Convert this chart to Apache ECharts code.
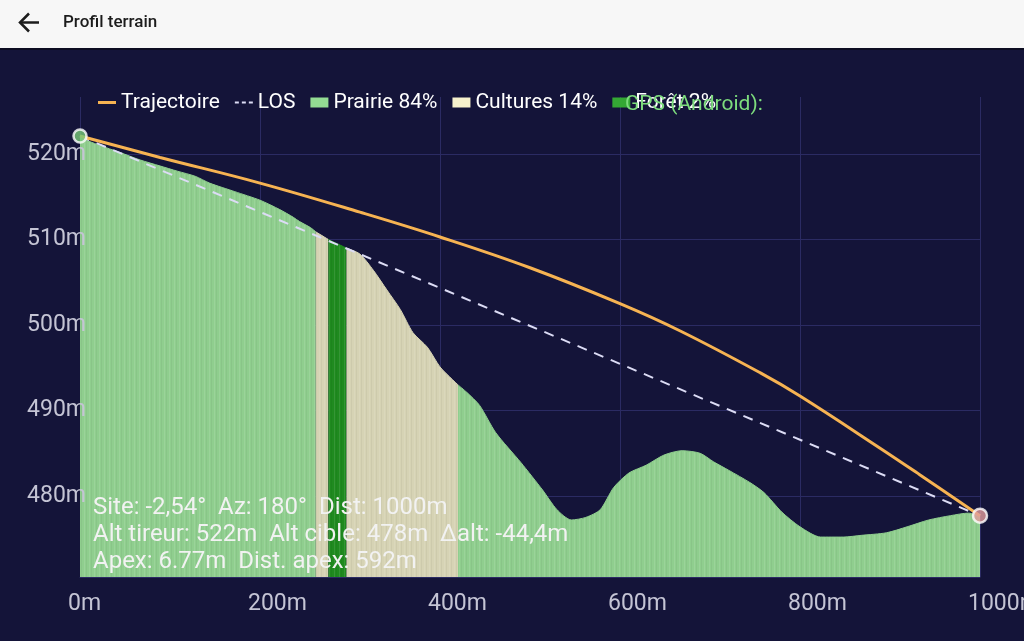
<!DOCTYPE html>
<html>
<head>
<meta charset="utf-8">
<script src="https://cdn.jsdelivr.net/npm/echarts@6/dist/echarts.min.js"></script>
<style>
html,body{margin:0;padding:0;background:#141439;}
#c{width:1024px;height:641px;}
</style>
</head>
<body>
<div id="c"></div>
<script>
// ---- Data ----
const terrainDist = [0,22,44,67,89,108,128,144,172,200,222,237,244,256,262,276,296,311,326,341,356,370,386,400,414,420,430,444,462,490,514,530,546,562,578,593,610,629,649,669,689,704,721,744,760,780,800,823,848,868,896,919,943,967,987,1000];
const terrainAlt  = [521.9,521.0,520.2,519.3,518.6,518.0,517.4,516.6,515.6,514.6,513.5,512.6,512.1,511.4,510.9,510.0,509.0,508.3,506.4,504.1,501.8,499.1,497.4,495.1,493.6,493.0,492.1,490.6,487.4,483.9,480.7,478.4,477.2,477.5,478.4,481.0,482.7,483.6,484.8,485.3,485.0,484.0,483.0,481.6,480.4,478.1,476.4,475.2,475.2,475.4,475.7,476.4,477.2,477.7,478.0,477.7];
const trajDist = [0,89,200,311,400,500,600,667,756,800,889,933,1000];
const trajAlt  = [522.1,519.6,516.6,513.2,510.3,506.7,502.5,499.3,494.4,491.7,485.6,482.5,477.7];
const losDist = [0,1000];
const losAlt  = [522.1,477.7];
const shooterPoint = [0,522.1];
const targetPoint  = [1000,477.7];
const landNames = ['Prairie 84%','Cultures 14%','Forêt 2%'];
// [start distance, end distance, land type index]
const landSegments = [[0,262,0],[262,276,1],[276,296,2],[296,420,1],[420,1000,0]];
const xTicks = [0,200,400,600,800,1000];
const yTicks = [480,490,500,510,520];
const seriesNames = ['Trajectoire','LOS'];
const infoLines = [
  'Site: -2,54°  Az: 180°  Dist: 1000m',
  'Alt tireur: 522m  Alt cible: 478m  Δalt: -44,4m',
  'Apex: 6.77m  Dist. apex: 592m'
];

// ---- Styles ----
const landLegendColors = ['#93dc93','#f6f1cc','#34a834'];
const landAreaColors   = ['#8fce8e','#d6d3b4','#1f8a1f'];
const gridColor = '#2b2b63';
const labelColor = '#c4c4d4';
const FONT = 'Roboto';
const Y_MIN = 470.53, Y_MAX = 526.67;

function stripes(base) {
  const c = document.createElement('canvas');
  c.width = 5; c.height = 4;
  const g = c.getContext('2d');
  g.fillStyle = base; g.fillRect(0, 0, 5, 4);
  g.fillStyle = 'rgba(255,255,255,0.10)'; g.fillRect(4, 0, 1, 4);
  g.fillStyle = 'rgba(0,0,0,0.04)'; g.fillRect(1, 0, 1, 4);
  return {image: c, repeat: 'repeat'};
}

const pairs = (xs, ys) => xs.map((x, i) => [x, ys[i]]);
const terrain = pairs(terrainDist, terrainAlt);

const landSeries = landSegments.map(([s, e, k]) => ({
  name: landNames[k],
  type: 'line',
  data: terrain.filter(p => p[0] >= s && p[0] <= e),
  symbol: 'none',
  smooth: 0.25,
  lineStyle: {width: 1, color: landAreaColors[k]},
  itemStyle: {color: landLegendColors[k]},
  areaStyle: {color: stripes(landAreaColors[k]), opacity: 1, origin: 'start'},
  z: 1,
  silent: true
}));

const chart = echarts.init(document.getElementById('c'), null, {renderer: 'canvas'});
chart.setOption({
  backgroundColor: '#141439',
  animation: false,
  grid: {left: 80, right: 44, top: 97, bottom: 64, containLabel: false, outerBoundsMode: 'none'},
  legend: {
    left: 93, top: 87, itemWidth: 18, itemHeight: 10, itemGap: 15,
    textStyle: {color: '#ffffff', fontSize: 21, fontFamily: FONT},
    data: [
      {name: seriesNames[0], icon: 'path://M0,0H18V3H0Z', itemStyle: {color: '#f6b352'}},
      {name: seriesNames[1], icon: 'path://M0,0H4V2H0Z M7,0H11V2H7Z M14,0H18V2H14Z', itemStyle: {color: '#dcdcf5'}},
      {name: landNames[0], icon: 'rect'},
      {name: landNames[1], icon: 'rect'},
      {name: landNames[2], icon: 'rect'}
    ]
  },
  xAxis: {
    type: 'value', min: xTicks[0], max: xTicks[xTicks.length - 1], interval: 200,
    axisLine: {show: true, lineStyle: {color: gridColor}},
    axisTick: {show: false},
    splitLine: {show: true, lineStyle: {color: gridColor, width: 1}},
    axisLabel: {
      customValues: xTicks, color: labelColor, fontSize: 23, fontFamily: FONT,
      align: 'left', padding: [0, 0, 0, -12], margin: 16,
      formatter: v => v + 'm'
    }
  },
  yAxis: [
    {
      type: 'value', min: Y_MIN, max: Y_MAX,
      axisLine: {show: false},
      axisTick: {show: false, customValues: yTicks},
      splitLine: {show: true, lineStyle: {color: gridColor, width: 1}},
      axisLabel: {show: false}
    },
    {
      type: 'value', min: Y_MIN, max: Y_MAX, position: 'left', z: 20,
      axisLine: {show: false},
      axisTick: {show: false, customValues: yTicks},
      splitLine: {show: false},
      axisLabel: {
        customValues: yTicks, color: labelColor, fontSize: 23, fontFamily: FONT,
        margin: -6, formatter: v => v + 'm'
      }
    }
  ],
  series: [
    ...landSeries,
    {
      name: seriesNames[1], type: 'line', data: pairs(losDist, losAlt),
      symbol: 'none', lineStyle: {color: '#dcdcf5', width: 2, type: [10, 8]},
      itemStyle: {color: '#dcdcf5'}, z: 4, silent: true
    },
    {
      name: seriesNames[0], type: 'line', data: pairs(trajDist, trajAlt),
      symbol: 'none', smooth: 0.4,
      lineStyle: {color: '#f6b352', width: 3},
      itemStyle: {color: '#f6b352'}, z: 5, silent: true
    },
    {
      type: 'scatter', data: [shooterPoint], symbolSize: 13, z: 6, silent: true,
      itemStyle: {color: '#78c978', borderColor: '#ffffff', borderWidth: 2.5}
    },
    {
      type: 'scatter', data: [targetPoint], symbolSize: 14, z: 6, silent: true,
      itemStyle: {color: '#e29c9c', borderColor: '#ffffff', borderWidth: 2.5}
    }
  ],
  graphic: [
    {type: 'rect', shape: {x: 0, y: 0, width: 1024, height: 48}, style: {fill: '#f7f7f7'}, z: 100},
    {type: 'rect', shape: {x: 0, y: 48, width: 1024, height: 2}, style: {fill: '#0d0d22'}, z: 100},
    {type: 'polyline', shape: {points: [[29, 13.5], [20, 22.5], [29, 31.5]]}, style: {stroke: '#1c1c1c', lineWidth: 2.5, fill: null}, z: 101},
    {type: 'line', shape: {x1: 20, y1: 22.5, x2: 39, y2: 22.5}, style: {stroke: '#1c1c1c', lineWidth: 2.5}, z: 101},
    {type: 'text', x: 63, y: 23, z: 101, style: {text: 'Profil terrain', fill: '#1c1c1c', font: '500 17px Roboto', verticalAlign: 'middle'}},
    {type: 'text', x: 625, y: 105, z: 101, style: {text: 'GPS (Android):', fill: '#7ddc7d', font: '21px Roboto', verticalAlign: 'middle'}},
    ...infoLines.map((t, i) => ({
      type: 'text', x: 93, y: 508 + i * 27, z: 101,
      style: {text: t, fill: '#f2f2f2', font: '24px Roboto', verticalAlign: 'middle'}
    }))
  ]
});
</script>
</body>
</html>
